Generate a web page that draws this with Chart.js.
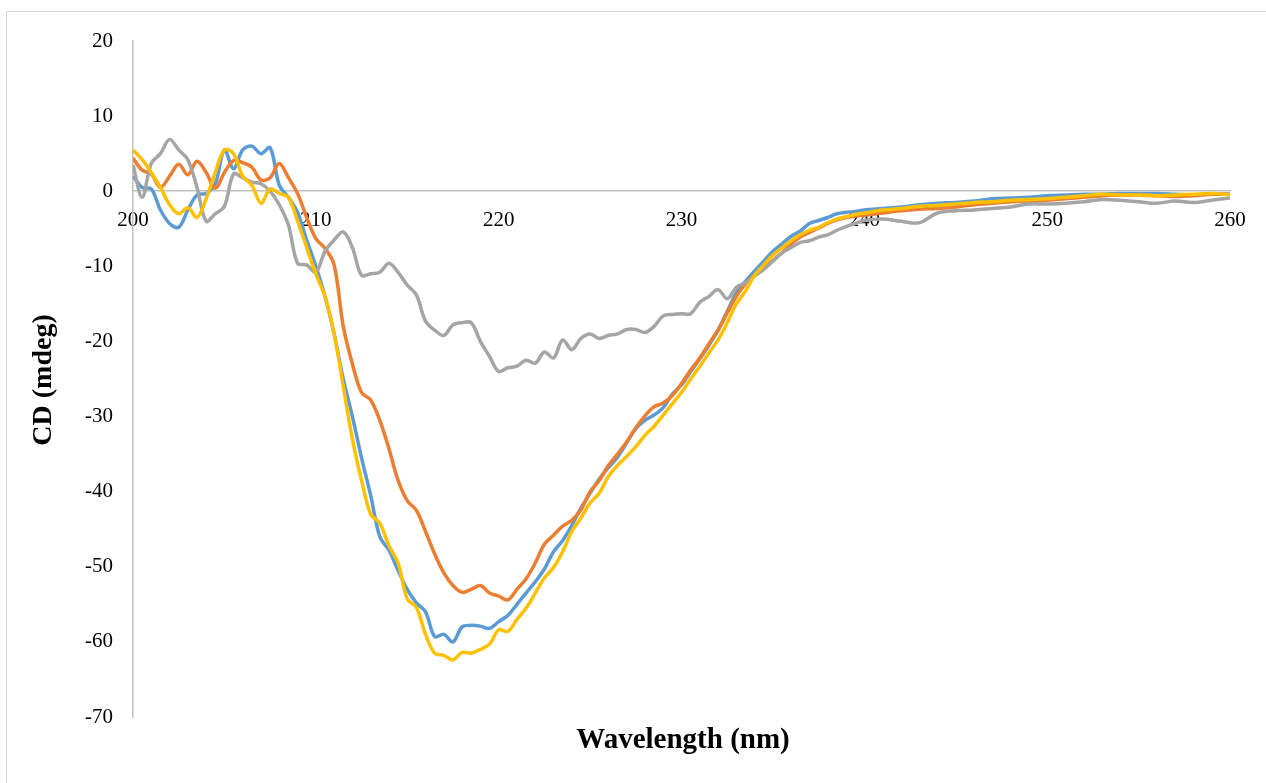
<!DOCTYPE html>
<html>
<head>
<meta charset="utf-8">
<script src="https://cdn.jsdelivr.net/npm/chart.js@4.4.1/dist/chart.umd.min.js"></script>
<style>
  html, body { margin: 0; padding: 0; background: #fff; overflow: hidden; }
  #wrap { position: relative; width: 1266px; height: 783px; }
  #frame { position: absolute; left: 6px; top: 11px; width: 1300px; height: 800px; border: 1px solid #d9d9d9; box-sizing: border-box; }
  #cd { position: absolute; left: 0; top: 0; }
</style>
</head>
<body>
<div id="wrap">
  <div id="frame"></div>
  <canvas id="cd" width="1266" height="783"></canvas>
</div>
<script>
// ── Scan grid: 0.5 nm steps to 240, then 1 nm to 260 ──
const wavelengths = [];
for (let w = 200; w <= 240; w += 0.5) wavelengths.push(w);
for (let w = 241; w <= 260; w += 1) wavelengths.push(w);

const xTicks = [200, 210, 220, 230, 240, 250, 260];
const yTicks = [20, 10, 0, -10, -20, -30, -40, -50, -60, -70];

// ── CD spectra (mdeg) ──
const blue = [
  2.0, 0.5, 0.3, -2.5, -4.3, -4.8, -2.5, -0.5, -0.3, 1.0,
  5.5, 3.0, 5.5, 6.0, 5.0, 5.8, 0.8, -0.8, -2.8, -6.5,
  -10.0, -14.0, -19.0, -25.0, -30.0, -35.5, -40.5, -46.0, -47.8, -50.5,
  -53.0, -54.8, -56.0, -59.3, -59.0, -60.0, -58.0, -57.8, -57.9, -58.2,
  -57.3, -56.5, -55.0, -53.5, -52.0, -50.3, -48.0, -46.5, -44.5, -42.2,
  -40.2, -38.3, -36.8, -35.4, -33.5, -31.6, -30.5, -29.8, -28.8, -27.0,
  -25.8, -24.0, -22.3, -20.5, -18.5, -16.0, -13.5, -12.0, -10.6, -9.3,
  -8.0, -7.0, -6.0, -5.3, -4.3, -3.9, -3.5, -3.0, -2.8, -2.7,
  -2.5,
  -2.3, -2.1, -1.8, -1.6, -1.5, -1.3, -1.0, -0.9, -0.8, -0.6,
  -0.5, -0.4, -0.4, -0.3, -0.3, -0.3, -0.4, -0.5, -0.4, -0.4
];
const orange = [
  4.4, 2.8, 2.3, 0.5, 2.0, 3.6, 2.2, 4.0, 2.5, 0.4,
  2.5, 4.1, 3.8, 3.2, 1.5, 1.8, 3.7, 1.8, -0.3, -3.5,
  -6.3, -7.6, -9.8, -18.0, -23.0, -26.8, -27.8, -30.5, -34.3, -38.5,
  -41.2, -42.5, -45.3, -48.3, -50.8, -52.5, -53.4, -53.0, -52.5, -53.5,
  -53.9, -54.4, -53.0, -51.6, -49.5, -47.0, -45.8, -44.6, -43.8, -42.4,
  -40.0, -38.5, -36.5, -35.0, -33.4, -31.5, -29.9, -28.7, -28.2, -27.2,
  -25.6, -23.8, -22.2, -20.3, -18.5, -16.2, -14.0, -12.3, -11.2, -10.3,
  -9.2, -8.2, -7.0, -6.1, -5.5, -4.9, -4.3, -3.8, -3.5, -3.3,
  -3.2,
  -2.9, -2.6, -2.4, -2.3, -2.1, -1.8, -1.6, -1.4, -1.3, -1.2,
  -1.0, -0.8, -0.6, -0.5, -0.5, -0.6, -0.7, -0.6, -0.4, -0.4
];
const gray = [
  3.5, -0.8, 3.7, 5.0, 6.9, 5.5, 4.2, 0.5, -4.0, -3.0,
  -2.0, 2.3, 1.8, 1.2, 1.0, 0.0, -1.8, -4.5, -9.6, -9.8,
  -10.8, -8.0, -6.5, -5.4, -7.5, -11.2, -11.0, -10.8, -9.6, -10.8,
  -12.5, -13.8, -17.3, -18.5, -19.2, -17.8, -17.5, -17.5, -20.0, -22.0,
  -24.0, -23.5, -23.3, -22.5, -22.9, -21.4, -22.2, -19.8, -21.1, -19.6,
  -19.0, -19.6, -19.2, -19.0, -18.4, -18.4, -18.8, -18.0, -16.6, -16.4,
  -16.3, -16.3, -14.8, -14.0, -13.1, -14.3, -12.8, -12.2, -11.3, -10.4,
  -9.3, -8.2, -7.5, -6.8, -6.6, -6.1, -5.8, -5.2, -4.7, -4.3,
  -3.9,
  -3.7, -4.0, -4.2, -2.9, -2.6, -2.5, -2.3, -2.1, -1.7, -1.7,
  -1.6, -1.4, -1.1, -1.2, -1.4, -1.6, -1.3, -1.5, -1.2, -0.9
];
const yellow = [
  5.5, 4.2, 2.5, 0.5, -1.8, -3.0, -2.2, -3.5, -1.0, 2.5,
  5.5, 5.0, 2.0, 0.8, -1.6, 0.3, -0.3, -0.8, -4.0, -7.5,
  -11.0, -14.0, -19.0, -26.0, -33.0, -38.5, -43.0, -44.2, -47.2, -49.5,
  -54.3, -55.4, -59.0, -61.5, -61.8, -62.4, -61.4, -61.5, -61.0, -60.3,
  -58.4, -58.6, -57.0, -55.5, -53.5, -51.5, -50.1, -48.0, -45.3, -43.5,
  -41.5, -40.2, -38.0, -36.5, -35.3, -34.0, -32.5, -31.3, -29.8, -28.3,
  -26.8, -25.0, -23.3, -21.5, -19.8, -17.5, -15.0, -13.3, -11.2, -9.8,
  -8.5, -7.5, -6.6, -5.8, -5.2, -4.8, -4.2, -3.7, -3.4, -3.1,
  -2.9,
  -2.5, -2.3, -2.0, -1.9, -1.7, -1.5, -1.4, -1.2, -1.1, -1.0,
  -0.8, -0.6, -0.4, -0.5, -0.5, -0.6, -0.5, -0.4, -0.3, -0.5
];

const SERIF = '"Liberation Serif", "Times New Roman", serif';
const AXIS_GRAY = '#bfbfbf';

const toPoints = vals => wavelengths.map((w, i) => ({ x: w, y: vals[i] }));

function series(vals, color, order) {
  return {
    data: toPoints(vals),
    borderColor: color,
    borderWidth: 3.5,
    pointRadius: 0,
    tension: 0.35,
    fill: false,
    order: order,
  };
}

// axis titles drawn onto the canvas
const axisTitles = {
  id: 'axisTitles',
  afterDraw(chart) {
    const ctx = chart.ctx;
    ctx.save();
    ctx.fillStyle = '#000';
    ctx.textAlign = 'center';
    ctx.textBaseline = 'middle';
    ctx.font = `bold 29px ${SERIF}`;
    ctx.fillText('Wavelength (nm)', 683, 741);
    ctx.font = `bold 28px ${SERIF}`;
    ctx.translate(44, 380);
    ctx.rotate(-Math.PI / 2);
    ctx.fillText('CD (mdeg)', 0, 0);
    ctx.restore();
  }
};

new Chart(document.getElementById('cd'), {
  type: 'line',
  data: {
    datasets: [
      series(blue, '#5b9bd5', 3),
      series(orange, '#ed7d31', 2),
      series(gray, '#a5a5a5', 1),
      series(yellow, '#ffc000', 0),
    ]
  },
  options: {
    responsive: false,
    animation: false,
    events: [],
    layout: { padding: { left: 0, top: 41, right: 36, bottom: 66 } },
    plugins: { legend: { display: false }, tooltip: { enabled: false } },
    scales: {
      x: {
        type: 'linear',
        position: { y: 0 },
        min: 200,
        max: 260,
        afterBuildTicks: scale => { scale.ticks = xTicks.map(v => ({ value: v })); },
        grid: { display: false, drawTicks: false },
        border: { color: AXIS_GRAY, width: 1.5 },
        ticks: { color: '#000', font: { family: SERIF, size: 21 }, padding: 17, maxRotation: 0 },
      },
      y: {
        type: 'linear',
        min: -70,
        max: 20,
        afterBuildTicks: scale => { scale.ticks = yTicks.map(v => ({ value: v })); },
        afterFit: scale => { scale.width = 133; },
        grid: { display: false, drawTicks: false },
        border: { color: AXIS_GRAY, width: 1.5 },
        ticks: { color: '#000', font: { family: SERIF, size: 21 }, padding: 20 },
      }
    }
  },
  plugins: [axisTitles]
});
</script>
</body>
</html>
